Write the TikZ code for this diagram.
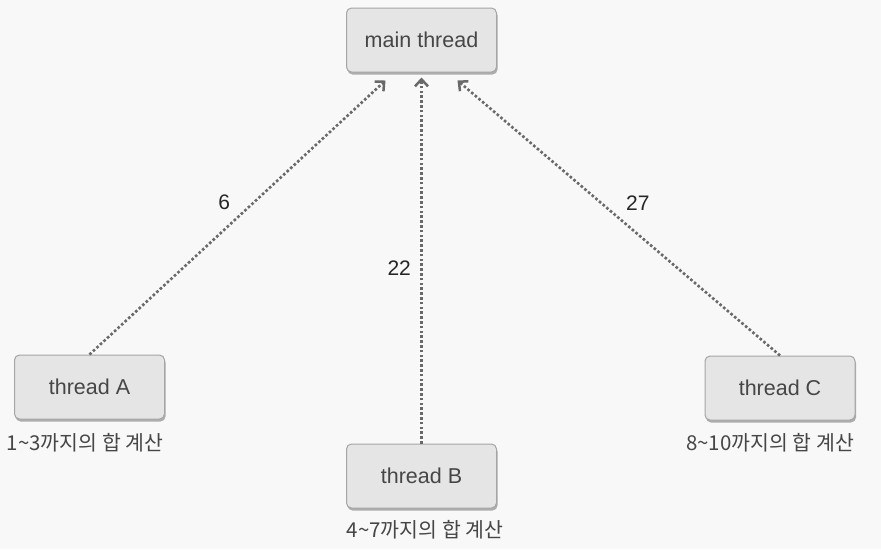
\documentclass[tikz,border=0pt]{standalone}
\usepackage{fontspec}
\setmainfont{Liberation Sans}
\newfontfamily\korfont{Noto Sans CJK KR}
\usetikzlibrary{arrows.meta,positioning,shadows}
\definecolor{bggray}{RGB}{248,248,248}
\definecolor{boxgray}{RGB}{229,229,229}
\definecolor{edgegray}{RGB}{165,165,165}
\definecolor{linegray}{RGB}{105,105,105}
\definecolor{txtgray}{RGB}{70,70,70}

\tikzset{
  threadbox/.style={rectangle, rounded corners=5pt, fill=boxgray, draw=edgegray,
    line width=1pt, minimum width=150pt, minimum height=64pt, text=txtgray,
    font=\fontsize{21.5}{24}\selectfont,
    drop shadow={shadow xshift=1pt, shadow yshift=-2.5pt, fill=edgegray, opacity=0.9}},
  tasklabel/.style={font=\korfont\fontsize{20.5}{24}\selectfont, text=txtgray},
  sumarrow/.style={-{Straight Barb[length=7pt,width=13pt,line width=2.5pt]}, linegray,
    line width=2.6pt, dash pattern=on 2.6pt off 2.2pt},
  sumlabel/.style={font=\fontsize{21}{24}\selectfont, text=black!85}
}

\begin{document}
\begin{tikzpicture}[x=1pt, y=-1pt]
  \fill[bggray] (0,0) rectangle (881,549);
  \useasboundingbox (0,0) rectangle (881,549);
  % --- boxes ---
  \node[threadbox] (main) at (421.5,40) {main thread};
  \node[threadbox] (ta) at (89.5,387) {thread A};
  \node[threadbox] (tb) at (421.5,476) {thread B};
  \node[threadbox] (tc) at (780,388) {thread C};
  % --- tasks ---
  \node[tasklabel] (la) at (85,443) {1\textasciitilde3까지의 합 계산};
  \node[tasklabel] (lb) at (425,530) {4\textasciitilde7까지의 합 계산};
  \node[tasklabel] (lc) at (770,443) {8\textasciitilde10까지의 합 계산};
  % --- partial sums ---
  \draw[sumarrow] (ta.north) -- ([xshift=-36pt,yshift=-8pt]main.south)
    node[sumlabel, pos=0.5, above left=4pt] (sa) {6};
  \draw[sumarrow] (tb.north) -- ([yshift=-5pt]main.south)
    node[sumlabel, pos=0.48, left=6pt] (sb) {22};
  \draw[sumarrow] (tc.north) -- ([xshift=36pt,yshift=-8pt]main.south)
    node[sumlabel, pos=0.5, above right=4pt] (sc) {27};
\end{tikzpicture}
\end{document}
